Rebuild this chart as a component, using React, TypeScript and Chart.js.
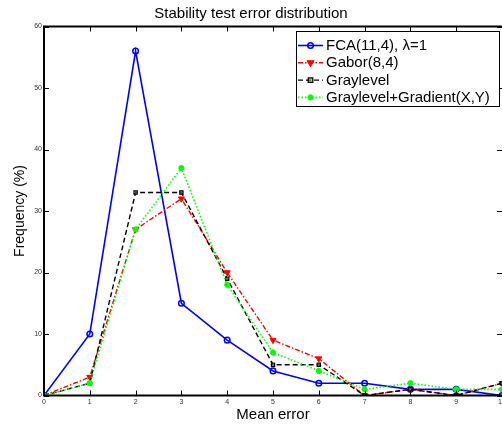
import React, { useEffect, useRef } from "react";
import { Chart, registerables } from "chart.js";

Chart.register(...registerables);

const meanErrors = [0, 1, 2, 3, 4, 5, 6, 7, 8, 9, 10];
const fcaValues = [0, 10, 56, 15, 9, 4, 2, 2, 1, 1, 0];
const gaborValues = [0, 3, 27, 32, 20, 9, 6, 0, 1, 0, 2];
const grayValues = [0, 2, 33, 33, 19, 5, 5, 0, 1, 0, 2];
const gradValues = [0, 2, 27, 37, 18, 7, 4, 1, 2, 1, 1];
const seriesLabels = [
  "FCA(11,4), \u03bb=1",
  "Gabor(8,4)",
  "Graylevel",
  "Graylevel+Gradient(X,Y)",
];
const xTickValues = [0, 1, 2, 3, 4, 5, 6, 7, 8, 9, 10];
const yTickValues = [0, 10, 20, 30, 40, 50, 60];

const FONT = "'Liberation Sans', Arial, Helvetica, sans-serif";

function drawMarker(ctx: CanvasRenderingContext2D, ds: any, x: number, y: number) {
  const r = ds.pointRadius;
  ctx.save();
  ctx.setLineDash([]);
  ctx.lineWidth = ds.pointBorderWidth;
  ctx.strokeStyle = ds.pointBorderColor;
  ctx.fillStyle = ds.pointBackgroundColor;
  ctx.beginPath();
  if (ds.pointStyle === "circle") {
    ctx.arc(x, y, r, 0, Math.PI * 2);
  } else if (ds.pointStyle === "triangle") {
    ctx.moveTo(x - r, y - r * 0.6);
    ctx.lineTo(x + r, y - r * 0.6);
    ctx.lineTo(x, y + r * 1.1);
    ctx.closePath();
  } else {
    ctx.rect(x - r, y - r, r * 2, r * 2);
  }
  ctx.fill();
  ctx.stroke();
  ctx.restore();
}

const framePlugin = {
  id: "frame",
  afterDatasetsDraw(chart: any) {
    const { ctx, chartArea } = chart;
    const { left, right, top, bottom } = chartArea;
    const xs = chart.scales.x;
    const ys = chart.scales.y;
    ctx.save();
    ctx.strokeStyle = "#000";
    ctx.lineWidth = 1;
    ctx.beginPath();
    for (const v of yTickValues) {
      const py = Math.round(ys.getPixelForValue(v)) + 0.5;
      ctx.moveTo(left, py);
      ctx.lineTo(left + 5, py);
      ctx.moveTo(right, py);
      ctx.lineTo(right - 5, py);
    }
    for (const v of xTickValues) {
      const px = Math.round(xs.getPixelForValue(v)) + 0.5;
      ctx.moveTo(px, bottom);
      ctx.lineTo(px, bottom - 5);
      ctx.moveTo(px, top);
      ctx.lineTo(px, top + 5);
    }
    ctx.stroke();
    ctx.lineWidth = 2;
    ctx.beginPath();
    ctx.moveTo(right + 1, top);
    ctx.lineTo(left, top);
    ctx.lineTo(left, bottom);
    ctx.lineTo(right + 1, bottom);
    ctx.stroke();

    // legend
    const bx = right - 206;
    const by = top + 4.5;
    const bw = 203;
    const bh = 75;
    ctx.fillStyle = "#fff";
    ctx.fillRect(bx, by, bw, bh);
    ctx.lineWidth = 1;
    ctx.strokeStyle = "#000";
    ctx.strokeRect(Math.round(bx) + 0.5, Math.round(by) + 0.5, bw, bh);
    ctx.font = `15px ${FONT}`;
    ctx.textBaseline = "middle";
    ctx.textAlign = "left";
    chart.data.datasets.forEach((ds: any, i: number) => {
      const ly = by + 14.5 + i * 17.3;
      ctx.save();
      ctx.strokeStyle = ds.borderColor;
      ctx.lineWidth = ds.borderWidth;
      ctx.setLineDash(ds.borderDash || []);
      ctx.beginPath();
      ctx.moveTo(bx + 2, ly);
      ctx.lineTo(bx + 27, ly);
      ctx.stroke();
      ctx.restore();
      drawMarker(ctx, ds, bx + 14.5, ly);
      ctx.fillStyle = "#000";
      ctx.fillText(ds.label, bx + 30, ly + 0.5);
    });
    ctx.restore();
  },
};

export default function App() {
  const canvasRef = useRef<HTMLCanvasElement | null>(null);

  useEffect(() => {
    const canvas = canvasRef.current;
    if (!canvas) return;
    Chart.defaults.font.family = FONT;
    const pts = (vals: number[]) => meanErrors.map((x, i) => ({ x, y: vals[i] }));
    const chart = new Chart(canvas, {
      type: "line",
      data: {
        datasets: [
          {
            label: seriesLabels[0],
            data: pts(fcaValues),
            borderColor: "#0000ff",
            borderWidth: 1.6,
            pointStyle: "circle",
            pointRadius: 2.8,
            pointBorderWidth: 1.5,
            pointBorderColor: "#0000ff",
            pointBackgroundColor: "rgba(0,0,0,0)",
            tension: 0,
            order: 3,
          },
          {
            label: seriesLabels[1],
            data: pts(gaborValues),
            borderColor: "#ff0000",
            borderWidth: 1.4,
            borderDash: [5, 2, 1.5, 2],
            pointStyle: "triangle",
            rotation: 180,
            pointRadius: 3.5,
            pointBorderWidth: 1,
            pointBorderColor: "#ff0000",
            pointBackgroundColor: "#ff0000",
            tension: 0,
            order: 2,
          },
          {
            label: seriesLabels[2],
            data: pts(grayValues),
            borderColor: "#000000",
            borderWidth: 1.4,
            borderDash: [5, 3],
            pointStyle: "rect",
            pointRadius: 2.3,
            pointBorderWidth: 1.2,
            pointBorderColor: "#000000",
            pointBackgroundColor: "rgba(150,150,150,0.6)",
            tension: 0,
            order: 1,
          },
          {
            label: seriesLabels[3],
            data: pts(gradValues),
            borderColor: "#00ff00",
            borderWidth: 1.6,
            borderDash: [1.5, 2],
            pointStyle: "circle",
            pointRadius: 2.6,
            pointBorderWidth: 1,
            pointBorderColor: "#00ff00",
            pointBackgroundColor: "#00ff00",
            tension: 0,
            order: 0,
          },
        ] as any,
      },
      options: {
        animation: false,
        responsive: false,
        events: [],
        layout: { padding: 0, autoPadding: false },
        plugins: {
          legend: { display: false },
          tooltip: { enabled: false },
          title: {
            display: true,
            text: "Stability test error distribution",
            color: "#000",
            font: { size: 15, weight: "normal", family: FONT },
            padding: { top: 4.5, bottom: 4 },
          },
        },
        scales: {
          x: {
            type: "linear",
            min: 0,
            max: 10,
            afterBuildTicks: (s: any) => {
              s.ticks = xTickValues.map((v) => ({ value: v }));
            },
            ticks: {
              stepSize: 1,
              autoSkip: false,
              maxRotation: 0,
              padding: 2,
              color: "#333",
              font: { size: 7, family: FONT },
            },
            grid: { display: false, drawTicks: false },
            border: { display: false },
            title: {
              display: true,
              text: "Mean error",
              color: "#000",
              font: { size: 15, family: FONT },
              padding: { top: 0, bottom: 0 },
            },
            afterFit: (s: any) => {
              s.height = 28.5;
              s.paddingLeft = 0;
              s.paddingRight = 0;
            },
          },
          y: {
            type: "linear",
            min: 0,
            max: 60,
            afterBuildTicks: (s: any) => {
              s.ticks = yTickValues.map((v) => ({ value: v }));
            },
            ticks: {
              stepSize: 10,
              padding: 2,
              color: "#333",
              font: { size: 7, family: FONT },
            },
            grid: { display: false, drawTicks: false },
            border: { display: false },
            title: {
              display: true,
              text: "Frequency (%)",
              color: "#000",
              font: { size: 14, family: FONT },
              padding: { top: 12, bottom: 0 },
            },
            afterFit: (s: any) => {
              s.width = 44;
              s.paddingTop = 0;
              s.paddingBottom = 0;
            },
          },
        },
      } as any,
      plugins: [framePlugin],
    });
    return () => chart.destroy();
  }, []);

  return (
    <div style={{ position: "fixed", left: 0, top: 0, width: 502, height: 424, background: "#fff" }}>
      <canvas ref={canvasRef} width={502} height={424} style={{ display: "block" }} />
    </div>
  );
}
